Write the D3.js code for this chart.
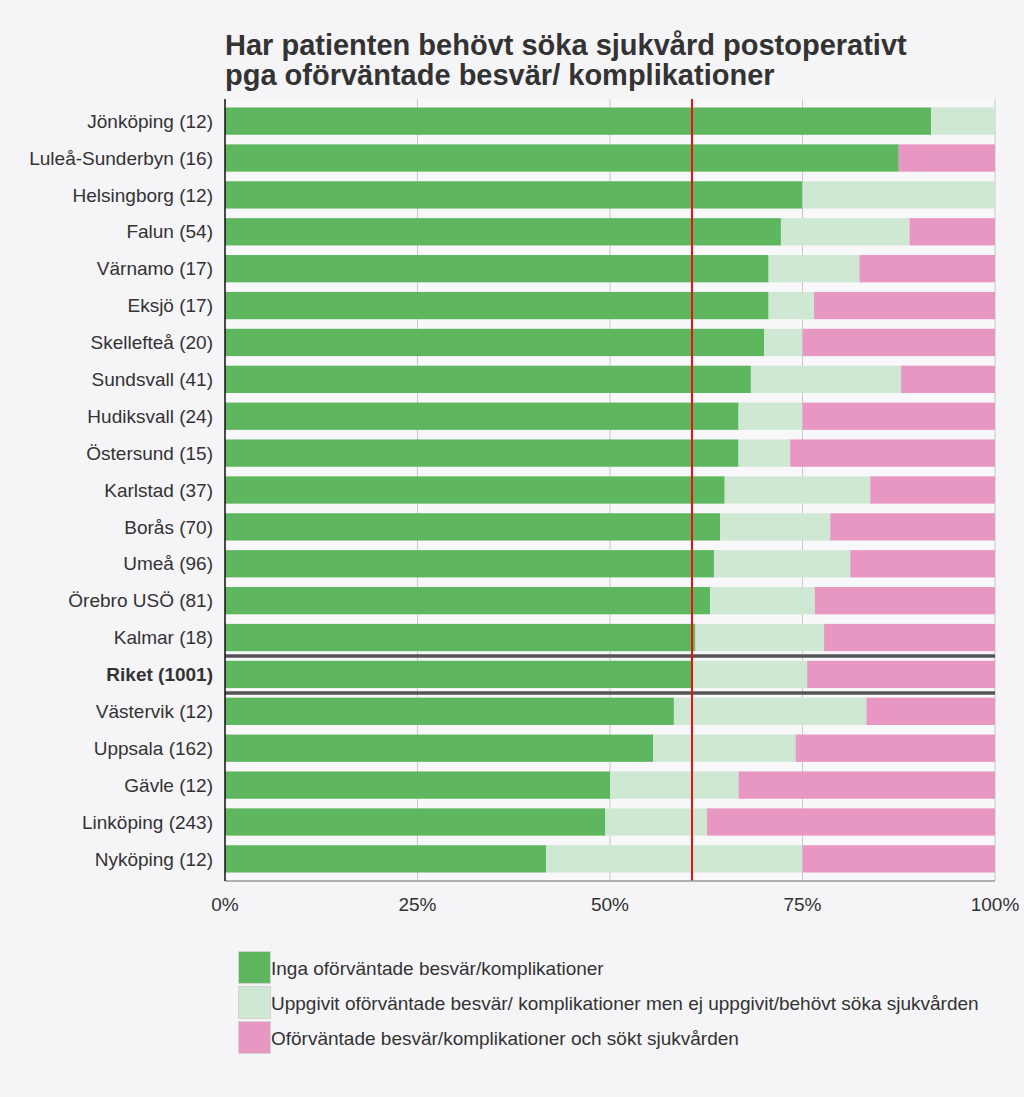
<!DOCTYPE html>
<html>
<head>
<meta charset="utf-8">
<script src="https://cdn.jsdelivr.net/npm/d3@7/dist/d3.min.js"></script>
<style>
  html, body { margin: 0; padding: 0; background: #f5f4f7; }
  svg { display: block; font-family: "Liberation Sans", Arial, sans-serif; }
</style>
</head>
<body>
<svg id="chart" width="1024" height="1097"></svg>
<script>
const titleLines = ["Har patienten behövt söka sjukvård postoperativt", "pga oförväntade besvär/ komplikationer"];
const categories = ["Jönköping (12)", "Luleå-Sunderbyn (16)", "Helsingborg (12)", "Falun (54)", "Värnamo (17)", "Eksjö (17)", "Skellefteå (20)", "Sundsvall (41)", "Hudiksvall (24)", "Östersund (15)", "Karlstad (37)", "Borås (70)", "Umeå (96)", "Örebro USÖ (81)", "Kalmar (18)", "Riket (1001)", "Västervik (12)", "Uppsala (162)", "Gävle (12)", "Linköping (243)", "Nyköping (12)"];
const seriesNames = ["Inga oförväntade besvär/komplikationer", "Uppgivit oförväntade besvär/ komplikationer men ej uppgivit/behövt söka sjukvården", "Oförväntade besvär/komplikationer och sökt sjukvården"];
const inga =    [91.7, 87.5, 75.0, 72.2, 70.6, 70.6, 70.0, 68.3, 66.7, 66.7, 64.9, 64.3, 63.5, 63.0, 61.1, 60.6, 58.3, 55.6, 50.0, 49.4, 41.7];
const uppgivit = [8.3, 0.0, 25.0, 16.7, 11.8, 5.9, 5.0, 19.5, 8.3, 6.7, 18.9, 14.3, 17.7, 13.6, 16.7, 15.0, 25.0, 18.5, 16.7, 13.2, 33.3];
const sokt =     [0.0, 12.5, 0.0, 11.1, 17.6, 23.5, 25.0, 12.2, 25.0, 26.7, 16.2, 21.4, 18.8, 23.5, 22.2, 24.4, 16.7, 25.9, 33.3, 37.4, 25.0];
const riketLabel = "Riket (1001)";
const riketValue = 60.6;
const tickValues = [0, 25, 50, 75, 100];

const colors = ["#5eb75f", "#cfe8d3", "#e897c2"];

const svg = d3.select("#chart");
const pLeft = 225, pRight = 995, pTop = 99, pBottom = 881;

svg.append("rect").attr("x", pLeft).attr("y", pTop).attr("width", pRight - pLeft).attr("height", pBottom - pTop).attr("fill", "#f8f7f9");

const x = d3.scaleLinear().domain([0, 100]).range([pLeft, pRight]);
const y = d3.scaleBand().domain(categories).range([pTop, pBottom]).paddingInner(0.26).paddingOuter(0.23);

// title
const title = svg.append("text").attr("x", 225).attr("y", 55)
  .attr("font-size", 29).attr("font-weight", "bold").attr("fill", "#333");
titleLines.forEach((t, i) => title.append("tspan").attr("x", 225).attr("dy", i === 0 ? 0 : 30).text(t));

// gridlines
svg.append("g").selectAll("line").data(tickValues.filter(d => d > 0)).join("line")
  .attr("x1", d => x(d)).attr("x2", d => x(d)).attr("y1", pTop).attr("y2", pBottom)
  .attr("stroke", "#c8c8c8").attr("stroke-width", 1);

// stacked bars
const rows = categories.map((c, i) => ({ cat: c, vals: [inga[i], uppgivit[i], sokt[i]] }));
const stackData = rows.map(r => { const o = { cat: r.cat }; seriesNames.forEach((s, k) => o[s] = r.vals[k]); return o; });
const stack = d3.stack().keys(seriesNames)(stackData);
svg.append("g").selectAll("g").data(stack).join("g").attr("fill", (d, i) => colors[i])
  .selectAll("rect").data(d => d).join("rect")
  .attr("x", d => x(d[0])).attr("width", d => Math.max(0, x(Math.min(100, d[1])) - x(d[0])))
  .attr("y", d => y(d.data.cat)).attr("height", y.bandwidth());

// Riket separators
const step = y.step();
const rb = y(riketLabel);
const gap = (step - y.bandwidth()) / 2;
[rb - gap, rb + y.bandwidth() + gap].forEach(yy => {
  svg.append("line").attr("x1", pLeft).attr("x2", pRight).attr("y1", yy).attr("y2", yy)
    .attr("stroke", "#555").attr("stroke-width", 3.5);
});

// red reference line
svg.append("line").attr("x1", Math.round(x(riketValue))).attr("x2", Math.round(x(riketValue))).attr("y1", pTop).attr("y2", pBottom)
  .attr("stroke", "#ee1111").attr("stroke-width", 2);

// axes lines
svg.append("line").attr("x1", pLeft).attr("x2", pRight).attr("y1", pBottom).attr("y2", pBottom).attr("stroke", "#999").attr("stroke-width", 1.5);
svg.append("line").attr("x1", pLeft).attr("x2", pLeft).attr("y1", pTop).attr("y2", pBottom).attr("stroke", "#111").attr("stroke-width", 1.5);

// category labels
svg.append("g").selectAll("text").data(categories).join("text")
  .attr("x", 213).attr("y", d => y(d) + y.bandwidth() / 2).attr("dy", "0.35em")
  .attr("text-anchor", "end").attr("font-size", 19).attr("fill", "#333")
  .attr("font-weight", d => d === riketLabel ? "bold" : "normal")
  .text(d => d);

// tick labels
svg.append("g").selectAll("text").data(tickValues).join("text")
  .attr("x", d => x(d)).attr("y", 911).attr("text-anchor", "middle")
  .attr("font-size", 19).attr("fill", "#333").text(d => d + "%");

// legend
const lg = svg.append("g");
seriesNames.forEach((s, i) => {
  const yy = 951 + i * 35;
  lg.append("rect").attr("x", 238.5).attr("y", yy + 0.5).attr("width", 32).attr("height", 32)
    .attr("fill", colors[i]).attr("stroke", "#d4d4d4").attr("stroke-width", 1);
  lg.append("text").attr("x", 271).attr("y", yy + 17).attr("dy", "0.35em")
    .attr("font-size", 19).attr("fill", "#333").text(s);
});
</script>
</body>
</html>
